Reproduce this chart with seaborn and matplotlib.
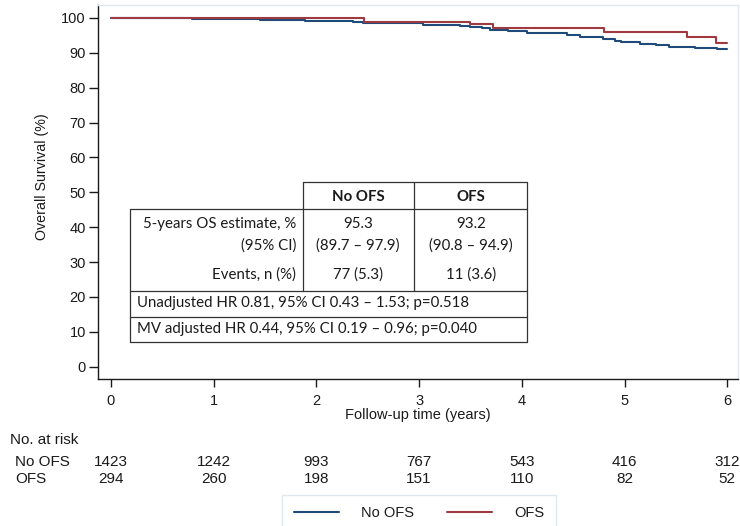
import matplotlib
matplotlib.use("Agg")
import matplotlib.pyplot as plt
import matplotlib.transforms as mtransforms
from matplotlib.lines import Line2D
from matplotlib.patches import Rectangle
import pandas as pd
import seaborn as sns

# ---- survival curves (Kaplan-Meier steps, % alive) ----
groups = ["No OFS", "OFS"]
colors = {"No OFS": "#1f4b7a", "OFS": "#9e3a40"}

nofs_time = [0, 0.79, 1.45, 1.89, 2.15, 2.36, 2.45, 3.04, 3.40, 3.50, 3.61, 3.69,
             3.87, 4.05, 4.44, 4.57, 4.79, 4.91, 4.97, 5.15, 5.31, 5.43, 5.69, 5.90, 6.00]
nofs_surv = [100, 99.6, 99.3, 99.2, 99.1, 98.7, 98.4, 98.1, 97.8, 97.5, 97.0, 96.6,
             96.2, 95.7, 95.1, 94.6, 94.0, 93.4, 93.0, 92.6, 92.1, 91.6, 91.3, 91.0, 91.0]

ofs_time = [0, 2.46, 3.50, 3.72, 4.80, 5.61, 5.89, 6.00]
ofs_surv = [100, 98.9, 98.2, 97.2, 96.0, 94.5, 92.8, 92.8]

# ---- numbers at risk ----
risk_times = [0, 1, 2, 3, 4, 5, 6]
risk_nofs = [1423, 1242, 993, 767, 543, 416, 312]
risk_ofs = [294, 260, 198, 151, 110, 82, 52]

# ---- inset summary table ----
table_header = ["No OFS", "OFS"]
row_labels = ["5-years OS estimate, %", "(95% CI)", "Events, n (%)"]
nofs_cells = ["95.3", "(89.7 \u2013 97.9)", "77 (5.3)"]
ofs_cells = ["93.2", "(90.8 \u2013 94.9)", "11 (3.6)"]
hr_lines = ["Unadjusted HR 0.81, 95% CI 0.43 \u2013 1.53; p=0.518",
            "MV adjusted HR 0.44, 95% CI 0.19 \u2013 0.96; p=0.040"]

df = pd.concat([
    pd.DataFrame({"time": nofs_time, "surv": nofs_surv, "group": "No OFS"}),
    pd.DataFrame({"time": ofs_time, "surv": ofs_surv, "group": "OFS"}),
], ignore_index=True)

sns.set_theme(style="ticks")
plt.rcParams["font.family"] = ["Liberation Sans", "DejaVu Sans"]
TXT = "#1a1a1a"
FRAME = "#e0e8ee"

W, H = 740, 526
fig = plt.figure(figsize=(W / 100, H / 100), dpi=100)
fig.patch.set_facecolor("white")


def fx(px):
    return px / W


def fy(py):
    return 1 - py / H


ax = fig.add_axes([fx(98.3), fy(379), (738 - 98.3) / W, (379 - 5) / H])

sns.lineplot(data=df, x="time", y="surv", hue="group", hue_order=groups,
             palette=colors, drawstyle="steps-post", estimator=None, sort=False,
             linewidth=1.5, legend=False, ax=ax)

ax.set_xlim(-0.1236, 6.105)
ax.set_ylim(-3.53, 103.7)
ax.set_xticks(risk_times)
ax.set_yticks(range(0, 101, 10))
ax.tick_params(axis="x", length=5.8, width=1, pad=5.0, labelsize=10.5,
               color=TXT, labelcolor=TXT, direction="out")
ax.tick_params(axis="y", length=6.8, width=1, pad=2.2, labelsize=10.5,
               color=TXT, labelcolor=TXT, direction="out")
for side in ("left", "bottom"):
    ax.spines[side].set_color(TXT)
    ax.spines[side].set_linewidth(1.0)
for side in ("top", "right"):
    ax.spines[side].set_visible(True)
    ax.spines[side].set_color(FRAME)
    ax.spines[side].set_linewidth(1.0)

ax.set_xlabel("Follow-up time (years)", fontsize=10.5, color=TXT)
ax.xaxis.set_label_coords(0.5, (379 - 415) / 374)
ax.xaxis.label.set_va("center")
ax.set_ylabel("Overall Survival (%)", fontsize=10.3, color=TXT)
ax.yaxis.set_label_coords((41.7 - 98.3) / 639.7, (379 - 176.7) / 374)
ax.yaxis.label.set_va("center")

# ---- inset table, drawn in figure pixel space ----
tfont = ["Lato", "DejaVu Sans"]
tsize = 10.8
lkw = dict(color="#333333", linewidth=0.9, transform=fig.transFigure)
x_l, x_c1, x_c2, x_r = 130, 302.7, 414, 527.3
y_top, y_hdr, y_ev, y_hr1, y_bot = 182.3, 209.3, 291, 316.7, 341.7
segments = [
    ((x_c1, x_r), (y_top, y_top)),
    ((x_l, x_r), (y_hdr, y_hdr)),
    ((x_l, x_r), (y_ev, y_ev)),
    ((x_l, x_r), (y_hr1, y_hr1)),
    ((x_l, x_r), (y_bot, y_bot)),
    ((x_l, x_l), (y_hdr, y_bot)),
    ((x_r, x_r), (y_top, y_bot)),
    ((x_c1, x_c1), (y_top, y_ev)),
    ((x_c2, x_c2), (y_top, y_ev)),
]
for xs, ys in segments:
    fig.add_artist(Line2D([fx(v) for v in xs], [fy(v) for v in ys], **lkw))

col_x = [358, 470.7]
row_y = [224.3, 246, 275]
for cx, name in zip(col_x, table_header):
    fig.text(fx(cx), fy(196.7), name, ha="center", va="center", fontsize=tsize,
             fontweight="bold", family=tfont, color=TXT)
for ry, lab, c1, c2 in zip(row_y, row_labels, nofs_cells, ofs_cells):
    fig.text(fx(296), fy(ry), lab, ha="right", va="center", fontsize=tsize,
             family=tfont, color=TXT)
    fig.text(fx(col_x[0]), fy(ry), c1, ha="center", va="center", fontsize=tsize,
             family=tfont, color=TXT)
    fig.text(fx(col_x[1]), fy(ry), c2, ha="center", va="center", fontsize=tsize,
             family=tfont, color=TXT)
for ry, line in zip([303.3, 329], hr_lines):
    fig.text(fx(137.3), fy(ry), line, ha="left", va="center", fontsize=tsize,
             family=tfont, color=TXT)

# ---- numbers at risk below the axis ----
RSIZE = 11
blend = mtransforms.blended_transform_factory(ax.transData, fig.transFigure)
fig.text(fx(10), fy(440), "No. at risk", ha="left", va="center", fontsize=RSIZE, color=TXT)
for ry, name, counts in [(461.7, "No OFS", risk_nofs), (479, "OFS", risk_ofs)]:
    fig.text(fx(15), fy(ry), name, ha="left", va="center", fontsize=RSIZE, color=TXT)
    for t, n in zip(risk_times, counts):
        ax.text(t, fy(ry), str(n), transform=blend, ha="center", va="center",
                fontsize=RSIZE, color=TXT, clip_on=False)

# ---- legend (box runs past the lower edge of the figure) ----
fig.add_artist(Rectangle((fx(281.7), fy(535)), (556 - 281.7) / W, (535 - 495) / H,
                         transform=fig.transFigure, facecolor="white",
                         edgecolor=FRAME, linewidth=1.0, zorder=1))
handles = [Line2D([], [], color=colors[g], linewidth=1.5) for g in groups]
leg = fig.legend(handles, groups, loc="center", bbox_to_anchor=(fx(419), fy(512.7)),
                 ncol=2, fontsize=10.5, frameon=False,
                 handlelength=3.1, handletextpad=1.5, columnspacing=2.3,
                 borderpad=0.8, borderaxespad=0)
leg.set_zorder(2)
for txt in leg.get_texts():
    txt.set_color(TXT)

fig.savefig("out.png", dpi=100, facecolor="white")
